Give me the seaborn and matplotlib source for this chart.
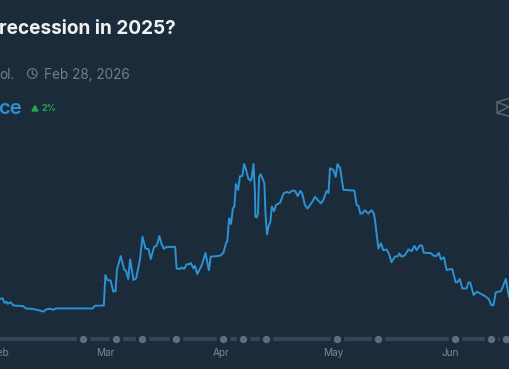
import pandas as pd
import seaborn as sns
import matplotlib.pyplot as plt
from matplotlib.lines import Line2D
from matplotlib.patches import Circle, Polygon
from matplotlib.transforms import IdentityTransform

# days counted from Mar 1 2025, chance in percent
days = [-28, -27.3, -26.8, -26.2, -25.9, -25.2, -24.4, -21.8, -21.1, -19.1, -17.5, -16.4, -15.7, -14.7, -13.8, -13.1,
        -3.3, -2.7, -0.3, 0.1, 0.6, 1.5, 2.2, 2.8, 3.2, 4.2, 5.1, 5.6, 6.2, 6.7, 7.6, 8.3, 9.3, 10.0, 10.8, 11.6, 12.2,
        13.1, 13.8, 14.5, 15.0, 15.7, 16.4, 18.7, 19.1, 20.0, 20.4, 21.1, 21.8, 22.5, 22.9, 23.6, 24.0, 24.6, 25.8,
        26.8, 27.7, 28.2, 30.7, 31.6, 32.3, 32.6, 33.1, 33.6, 34.1, 34.5, 34.9, 35.5, 36.0, 36.6, 37.1, 37.5, 38.2,
        38.8, 39.1, 39.6, 40.0, 40.1, 40.5, 40.8, 41.1, 41.5, 42.0, 42.5, 42.8, 43.2, 43.6, 44.1, 44.5, 45.1, 45.6,
        46.7, 47.6, 48.4, 49.1, 50.0, 50.7, 51.4, 52.1, 52.6, 53.3, 54.0, 54.7, 55.3, 56.0, 56.9, 57.6, 58.2, 59.1,
        59.6, 60.0, 60.9, 61.5, 62.0, 62.7, 63.3, 63.6, 66.5, 67.1, 67.6, 68.1, 68.6, 69.3, 70.2, 71.1, 71.7, 72.0,
        72.9, 73.6, 74.2, 75.1, 75.7, 76.4, 77.3, 78.2, 78.5, 79.1, 80.0, 80.9, 81.8, 82.5, 83.1, 84.0, 84.6, 85.0,
        86.9, 87.6, 88.4, 89.0, 89.6, 90.4, 91.1, 92.0, 92.6, 93.5, 94.0, 94.6, 95.3, 96.4, 96.9, 97.4, 98.3, 99.2,
        100.0, 101.3, 102.4, 103.0, 103.6, 104.2, 105.6, 106.9, 107.7, 108.1]
chance = [14.3, 14.5, 13.1, 13.4, 12.8, 13.3, 12.3, 12.1, 11.4, 11.2, 10.8, 10.4, 11.1, 11.3, 11.0, 11.4,
          11.4, 12.2, 12.3, 21.6, 20.1, 19.9, 16.6, 16.6, 23.3, 27.4, 23.3, 22.9, 20.4, 26.4, 20.1, 20.6, 26.2, 33.3, 29.7, 29.5, 26.5,
          30.2, 30.6, 33.5, 31.3, 29.6, 30.2, 30.2, 23.6, 23.4, 23.9, 23.5, 24.9, 24.9, 25.3, 23.6, 24.4, 21.9, 24.6,
          28.3, 23.1, 27.2, 27.5, 28.4, 31.5, 31.8, 38.9, 37.2, 42.0, 42.5, 49.4, 47.6, 51.8, 51.8, 55.5, 54.2, 51.1,
          50.4, 51.1, 55.5, 46.5, 39.4, 39.2, 40.4, 51.6, 52.4, 51.1, 49.6, 40.4, 34.0, 36.4, 37.9, 42.5, 41.1, 43.0,
          43.7, 46.5, 47.0, 46.7, 47.4, 47.3, 45.7, 47.3, 46.5, 43.0, 41.9, 43.0, 44.0, 45.5, 44.3, 43.5, 44.5, 47.3,
          46.7, 54.2, 53.7, 51.6, 55.5, 54.2, 49.6, 47.6, 47.4, 43.0, 42.7, 40.4, 40.4, 41.4, 40.4, 41.4, 40.4, 38.4,
          29.7, 31.3, 29.2, 29.4, 28.2, 25.5, 27.2, 27.4, 28.2, 27.2, 27.7, 29.4, 28.9, 30.5, 29.2, 30.7, 30.5, 28.4,
          28.3, 27.5, 27.4, 28.4, 26.4, 27.0, 23.1, 23.4, 23.4, 19.4, 19.4, 20.4, 17.5, 17.5, 19.3, 19.3, 15.5, 16.5,
          16.0, 15.2, 14.2, 12.4, 12.4, 16.3, 16.7, 20.4, 15.0, 14.5]
event_days = [-5.9, 2.9, 9.9, 18.9, 31.4, 36.9, 42.9, 61.8, 72.8, 93.3, 102.9, 106.9]
month_days = [-28, 0, 31, 61, 92]
month_labels = ['Feb', 'Mar', 'Apr', 'May', 'Jun']
grid_levels = [10, 20, 30, 40, 50, 60]

BG = '#1c2b3a'
W, H = 510, 369

sns.set_theme(style='dark', rc={'axes.facecolor': BG, 'figure.facecolor': BG})
plt.rcParams['font.family'] = ['Inter', 'DejaVu Sans']

fig = plt.figure(figsize=(W / 100, H / 100), dpi=100)
ax = fig.add_axes([0, (H - 345.75) / H, 1, 345.75 / H])

start = pd.Timestamp('2025-03-01')
df = pd.DataFrame({'date': start + pd.to_timedelta(days, unit='D'), 'chance': chance})
events = pd.DataFrame({'date': start + pd.to_timedelta(event_days, unit='D'), 'y': 2.15})

for level in grid_levels:
    ax.axhline(level, color='#2f3e4c', lw=0.7, ls=(0, (1, 3.5)), zorder=1)

# slider track under the chart
ax.plot([start + pd.Timedelta(days=-28), start + pd.Timedelta(days=108)], [2.15, 2.15],
        color='#344557', lw=3, solid_capstyle='butt', zorder=2)
sns.scatterplot(data=events, x='date', y='y', ax=ax, s=58, color='#5a6d85', edgecolor=BG, linewidth=2.2, zorder=3)
sns.lineplot(data=df, x='date', y='chance', ax=ax, estimator=None, color='#2b93d3', lw=1.4, zorder=4,
             solid_joinstyle='round')

ax.set_xlim(start + pd.Timedelta(days=-28), start + pd.Timedelta(days=108))
ax.set_ylim(0, 105.6)
ax.set_xticks([start + pd.Timedelta(days=d) for d in month_days])
ax.set_xticklabels(month_labels, fontsize=7.2, color='#7d8790')
ax.tick_params(axis='x', length=0, pad=1.5)
ax.set_yticks([])
ax.set_xlabel('')
ax.set_ylabel('')
sns.despine(ax=ax, left=True, bottom=True)


def put(px, py, s, **kw):
    fig.text(px / W, 1 - py / H, s, va='center', **kw)


put(176, 28.5, 'recession in 2025?', ha='right', fontsize=13.7, fontweight='bold', color='#f0f1f2')
put(14.5, 75, 'ol.', ha='right', fontsize=9.8, color='#747e87')
put(44, 75, 'Feb 28, 2026', ha='left', fontsize=9.8, color='#747e87')
put(22, 108.5, 'ce', ha='right', fontsize=14.5, fontweight='semibold', color='#2b93d3')
put(42, 108.5, '2%', ha='left', fontsize=6.5, fontweight='bold', color='#22a558')

# icons, in pixels
tr = IdentityTransform()
fig.add_artist(Circle((32.3, H - 73.5), 4.8, fill=False, ec='#747e87', lw=0.8, transform=tr))
fig.add_artist(Line2D([32.3, 32.3, 35], [H - 70.5, H - 74, H - 75], color='#747e87', lw=0.8, transform=tr))
fig.add_artist(Polygon([(32, H - 111), (35, H - 105.5), (38, H - 111)], color='#22a558', transform=tr))
hex_x = [512, 497, 497, 512]
hex_y = [97.5, 102, 113, 117]
fig.add_artist(Line2D(hex_x, [H - y for y in hex_y], color='#59646f', lw=1.1, transform=tr))
fig.add_artist(Line2D([497, 512], [H - 102, H - 108], color='#59646f', lw=1.1, transform=tr))
fig.add_artist(Line2D([497, 512], [H - 113, H - 105], color='#59646f', lw=1.1, transform=tr))

fig.savefig('out.png', dpi=100, facecolor=BG)
